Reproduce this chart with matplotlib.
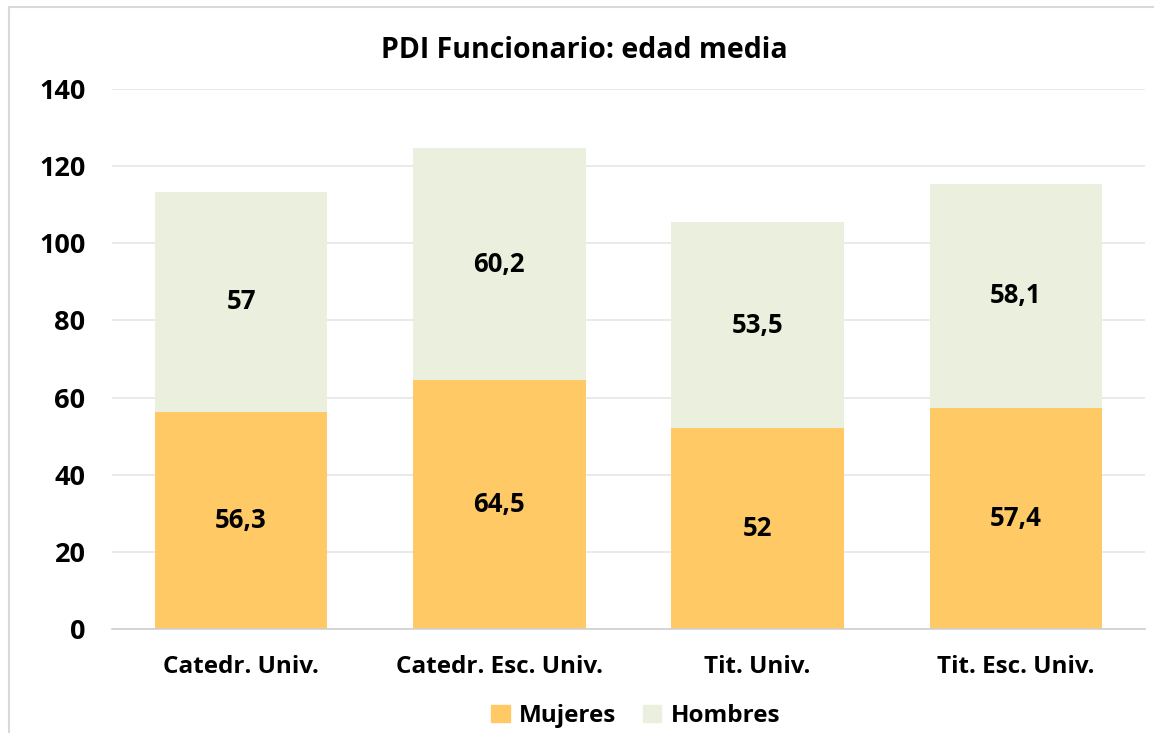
import matplotlib.pyplot as plt
import matplotlib.patches as mpatches

# Datos
categorias = ['Catedr. Univ.', 'Catedr. Esc. Univ.', 'Tit. Univ.', 'Tit. Esc. Univ.']
mujeres = [56.3, 64.5, 52, 57.4]
hombres = [57, 60.2, 53.5, 58.1]
yticks = [0, 20, 40, 60, 80, 100, 120, 140]

col_muj = '#FFCA66'
col_hom = '#EBF0DE'

plt.rcParams['font.family'] = ['Open Sans', 'DejaVu Sans']
plt.rcParams['font.weight'] = 'bold'

fig = plt.figure(figsize=(11.54, 7.33), dpi=100)
ax = fig.add_axes([112 / 1154, 104 / 733, 1033 / 1154, 540 / 733])

x = range(len(categorias))
ancho = 0.667
ax.bar(x, mujeres, width=ancho, color=col_muj, zorder=2)
ax.bar(x, hombres, width=ancho, bottom=mujeres, color=col_hom, zorder=2)


def fmt(v):
    return ('%g' % v).replace('.', ',')


for i in x:
    ax.text(i, mujeres[i] / 2, fmt(mujeres[i]), ha='center', va='center',
            fontsize=18.5, fontweight='bold', color='black', zorder=3)
    ax.text(i, mujeres[i] + hombres[i] / 2, fmt(hombres[i]), ha='center', va='center',
            fontsize=18.5, fontweight='bold', color='black', zorder=3)

ax.set_xlim(-0.5, 3.5)
ax.set_ylim(0, 140)
ax.set_yticks(yticks)
ax.set_yticklabels([str(t) for t in yticks], fontsize=19.5, fontweight='bold')
ax.set_xticks(list(x))
ax.set_xticklabels(categorias, fontsize=17.5, fontweight='bold')
ax.tick_params(axis='both', length=0)
ax.tick_params(axis='y', pad=19)
ax.tick_params(axis='x', pad=19)
ax.grid(axis='y', color='#E6E6E6', linewidth=1.2, zorder=0)
for lado in ['top', 'right', 'left']:
    ax.spines[lado].set_visible(False)
ax.spines['bottom'].set_color('#D0D0D0')
ax.spines['bottom'].set_linewidth(1.2)

fig.text(584 / 1154, 1 - 51 / 733, 'PDI Funcionario: edad media', ha='center', va='center',
         fontsize=20.5, fontweight='bold')

handles = [mpatches.Patch(color=col_muj, label='Mujeres'),
           mpatches.Patch(color=col_hom, label='Hombres')]
fig.legend(handles=handles, loc='center', bbox_to_anchor=(636 / 1154, 1 - 716 / 733), ncol=2,
           frameon=False, handlelength=0.75, handleheight=0.75,
           handletextpad=0.4, columnspacing=1.1, prop={'weight': 'bold', 'size': 17.5})

# Borde del gráfico
borde = mpatches.Rectangle((9 / 1154, -0.01), 1152 / 1154, 1 - 7 / 733 + 0.01, transform=fig.transFigure,
                           fill=False, edgecolor='#D9D9D9', linewidth=1.5)
fig.patches.append(borde)

fig.savefig('out.png', dpi=100)
